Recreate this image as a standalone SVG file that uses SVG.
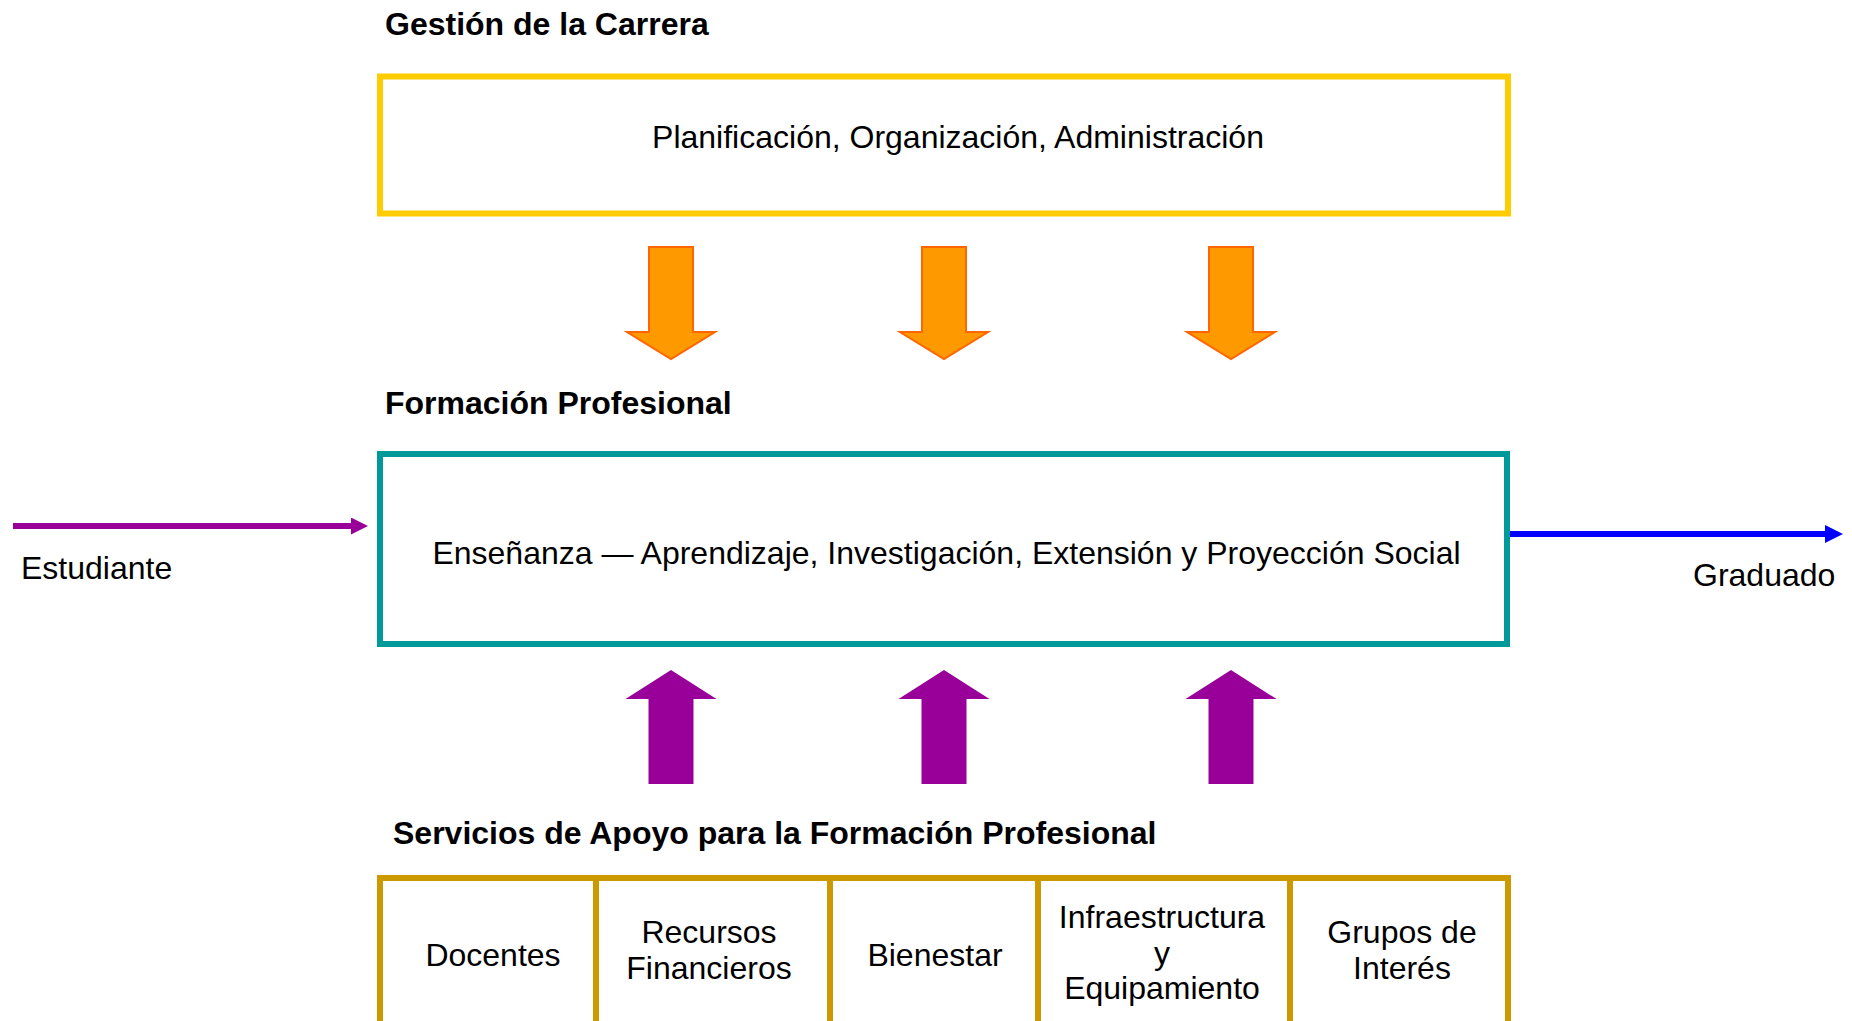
<svg xmlns="http://www.w3.org/2000/svg" width="1852" height="1021" viewBox="0 0 1852 1021">
<style>
text{font-family:"Liberation Sans",Arial,sans-serif;font-size:32px;fill:#000}
.title{font-weight:bold}
.mid{text-anchor:middle}
.box{fill:#fff;stroke-width:6}
.down{fill:#FF9900;stroke:#FF6600;stroke-width:2;stroke-linejoin:miter}
.up{fill:#990099}
</style>
<defs>
<marker id="mPurple" markerUnits="userSpaceOnUse" markerWidth="17" markerHeight="17" refX="0" refY="8.5" orient="auto" viewBox="0 0 17 17">
<path d="M0,0 L17,8.5 L0,17 Z" fill="#990099"/>
</marker>
<marker id="mBlue" markerUnits="userSpaceOnUse" markerWidth="18" markerHeight="18" refX="0" refY="9" orient="auto" viewBox="0 0 18 18">
<path d="M0,0 L18,9 L0,18 Z" fill="#0000FF"/>
</marker>
</defs>
<rect width="1852" height="1021" fill="#fff"/>

<g id="gestion">
<text class="title" x="385" y="35">Gestión de la Carrera</text>
<rect class="box" x="380" y="76.5" width="1128" height="137" stroke="#FFCC00"/>
<text class="mid" x="958" y="148">Planificación, Organización, Administración</text>
</g>

<g id="formacion">
<text class="title" x="385" y="414">Formación Profesional</text>
<rect class="box" x="380" y="454" width="1127" height="190" stroke="#009999"/>
<text class="mid" x="946.5" y="564">Enseñanza — Aprendizaje, Investigación, Extensión y Proyección Social</text>
</g>

<g id="servicios">
<text class="title" x="393" y="844">Servicios de Apoyo para la Formación Profesional</text>
<rect class="box" x="380" y="878" width="1128" height="146" stroke="#CC9900"/>
<g stroke="#CC9900" stroke-width="6">
<line x1="596" y1="878" x2="596" y2="1024"/>
<line x1="830" y1="878" x2="830" y2="1024"/>
<line x1="1038" y1="878" x2="1038" y2="1024"/>
<line x1="1290" y1="878" x2="1290" y2="1024"/>
</g>
<g id="docentes"><text class="mid" x="493" y="966">Docentes</text></g>
<g id="recursos"><text class="mid" x="709" y="943">Recursos</text><text class="mid" x="709" y="979">Financieros</text></g>
<g id="bienestar"><text class="mid" x="935" y="966">Bienestar</text></g>
<g id="infraestructura"><text class="mid" x="1162" y="928">Infraestructura</text><text class="mid" x="1162" y="964">y</text><text class="mid" x="1162" y="999">Equipamiento</text></g>
<g id="grupos"><text class="mid" x="1402" y="943">Grupos de</text><text class="mid" x="1402" y="979">Interés</text></g>
</g>

<g id="estudiante"><text x="21" y="579">Estudiante</text></g>
<g id="graduado"><text x="1693" y="586">Graduado</text></g>

<g id="connectors">
<path class="down" d="M649,247 L693,247 L693,332 L715,332 L671,359 L627,332 L649,332 Z"/>
<path class="down" d="M922,247 L966,247 L966,332 L988,332 L944,359 L900,332 L922,332 Z"/>
<path class="down" d="M1209,247 L1253,247 L1253,332 L1275,332 L1231,359 L1187,332 L1209,332 Z"/>
<path class="up" d="M671,670 L716.5,699 L693.5,699 L693.5,784 L648.5,784 L648.5,699 L625.5,699 Z"/>
<path class="up" d="M944,670 L989.5,699 L966.5,699 L966.5,784 L921.5,784 L921.5,699 L898.5,699 Z"/>
<path class="up" d="M1231,670 L1276.5,699 L1253.5,699 L1253.5,784 L1208.5,784 L1208.5,699 L1185.5,699 Z"/>
<line x1="13" y1="526" x2="351" y2="526" stroke="#990099" stroke-width="6" marker-end="url(#mPurple)"/>
<line x1="1510" y1="534" x2="1825" y2="534" stroke="#0000FF" stroke-width="6" marker-end="url(#mBlue)"/>
</g>
</svg>
